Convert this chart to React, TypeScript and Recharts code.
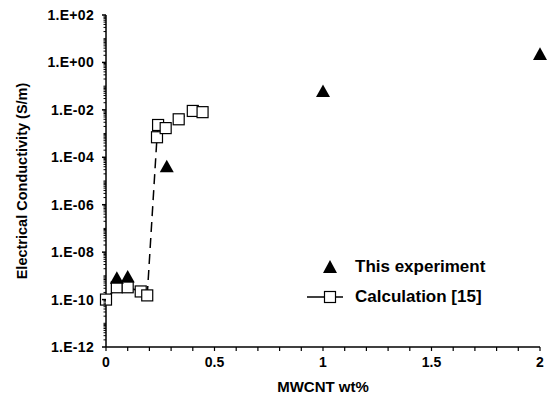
import { ScatterChart, Scatter, XAxis, YAxis, Legend } from "recharts"

// measured conductivity (S/m) vs MWCNT wt%
const expWt = [0.05, 0.1, 0.28, 1.0, 2.0]
const expSigma = [8e-10, 9e-10, 4e-5, 0.06, 2.2]

// calculation from ref. [15]
const calcWt = [0, 0.05, 0.1, 0.16, 0.19, 0.235, 0.24, 0.275, 0.335, 0.4, 0.445]
const calcSigma = [1e-10, 3.3e-10, 3.3e-10, 2.2e-10, 1.5e-10, 7e-4, 2.3e-3, 1.7e-3, 4e-3, 9e-3, 8e-3]

const xMajor = [0, 0.5, 1, 1.5, 2]
const yMajorExp = [-12, -10, -8, -6, -4, -2, 0, 2]

const expData = expWt.map((x, i) => ({ x, y: expSigma[i] }))
const calcData = calcWt.map((x, i) => ({ x, y: calcSigma[i] }))

const xTicks: number[] = []
for (let i = 0; i <= 20; i++) xTicks.push(Math.round(i * 10) / 100)

const yTicks: number[] = []
for (let e = -12; e < 2; e++) {
  for (let m = 1; m < 10; m++) yTicks.push(m * Math.pow(10, e))
}
yTicks.push(100)

const font = "'Liberation Sans', Arial, sans-serif"

const fmtExp = (v: number) => {
  const k = Math.round(Math.log10(v))
  return `1.E${k >= 0 ? "+" : "-"}${String(Math.abs(k)).padStart(2, "0")}`
}

const isMajorY = (v: number) => {
  const k = Math.log10(v)
  return Math.abs(k - Math.round(k)) < 1e-6 && yMajorExp.includes(Math.round(k))
}

const YTick = (props: any) => {
  const { x, y, payload } = props
  const major = isMajorY(payload.value)
  return (
    <g>
      <line x1={x - (major ? 4 : 2.5)} x2={x} y1={y} y2={y} stroke="#000" strokeWidth={major ? 1.5 : 1} />
      {major && (
        <text
          x={x - 12}
          y={y}
          dy="0.36em"
          textAnchor="end"
          fontFamily={font}
          fontWeight="bold"
          fontSize={14}
          letterSpacing={0.3}
          fill="#000"
        >
          {fmtExp(payload.value)}
        </text>
      )}
    </g>
  )
}

const XTick = (props: any) => {
  const { x, y, payload } = props
  const major = xMajor.some((m) => Math.abs(m - payload.value) < 1e-6)
  return (
    <g>
      <line x1={x} x2={x} y1={y} y2={y + 4} stroke="#000" strokeWidth={1.2} />
      {major && (
        <text x={x} y={y + 20} textAnchor="middle" fontFamily={font} fontWeight="bold" fontSize={14} fill="#000">
          {String(payload.value)}
        </text>
      )}
    </g>
  )
}

const Triangle = (props: any) => {
  const { cx, cy } = props
  const s = 7
  return <polygon points={`${cx},${cy - s} ${cx - s},${cy + s * 0.8} ${cx + s},${cy + s * 0.8}`} fill="#000" />
}

const Square = (props: any) => {
  const { cx, cy } = props
  return <rect x={cx - 5.5} y={cy - 5.5} width={11} height={11} fill="#fff" stroke="#000" strokeWidth={1.2} />
}

const LegendBox = () => (
  <div style={{ fontFamily: font, fontWeight: "bold", fontSize: 17, color: "#000" }}>
    <div style={{ display: "flex", alignItems: "center", height: 30 }}>
      <svg width={55} height={20}>
        <polygon points="30,3 23,16 37,16" fill="#000" />
      </svg>
      <span>This experiment</span>
    </div>
    <div style={{ display: "flex", alignItems: "center", height: 30 }}>
      <svg width={55} height={20}>
        <line x1={7} x2={43} y1={10} y2={10} stroke="#000" strokeWidth={1.5} />
        <rect x={24.5} y={4.5} width={11} height={11} fill="#fff" stroke="#000" strokeWidth={1.2} />
      </svg>
      <span>Calculation [15]</span>
    </div>
  </div>
)

export default function App() {
  return (
    <div style={{ position: "absolute", left: 0, top: 0, background: "#fff" }}>
      <ScatterChart width={549} height={401} margin={{ top: 15, right: 9, bottom: 10, left: 0 }}>
        <XAxis
          type="number"
          dataKey="x"
          domain={[0, 2]}
          ticks={xTicks}
          interval={0}
          tick={<XTick />}
          tickSize={0}
          tickMargin={0}
          tickLine={false}
          height={44}
          axisLine={{ stroke: "#000", strokeWidth: 1.5 }}
          label={{
            value: "MWCNT wt%",
            position: "insideBottom",
            offset: -1,
            style: { fontFamily: font, fontWeight: "bold", fontSize: 15, fill: "#000" },
          }}
        />
        <YAxis
          type="number"
          dataKey="y"
          scale="log"
          domain={[1e-12, 100]}
          ticks={yTicks}
          interval={0}
          allowDataOverflow
          tick={<YTick />}
          tickSize={0}
          tickMargin={0}
          tickLine={false}
          width={106}
          axisLine={{ stroke: "#000", strokeWidth: 1.5 }}
          label={{
            value: "Electrical Conductivity (S/m)",
            angle: -90,
            position: "insideLeft",
            offset: 22,
            style: { fontFamily: font, fontWeight: "bold", fontSize: 14.5, fill: "#000", textAnchor: "middle" },
          }}
        />
        <Legend
          layout="vertical"
          align="center"
          verticalAlign="middle"
          content={<LegendBox />}
          wrapperStyle={{ position: "absolute", left: 300, top: 252, width: 240 }}
        />
        <Scatter
          name="Calculation [15]"
          data={calcData}
          line={{ stroke: "#000", strokeWidth: 1.5, strokeDasharray: "10 6" }}
          lineType="joint"
          shape={<Square />}
          isAnimationActive={false}
        />
        <Scatter name="This experiment" data={expData} shape={<Triangle />} isAnimationActive={false} />
      </ScatterChart>
    </div>
  )
}
